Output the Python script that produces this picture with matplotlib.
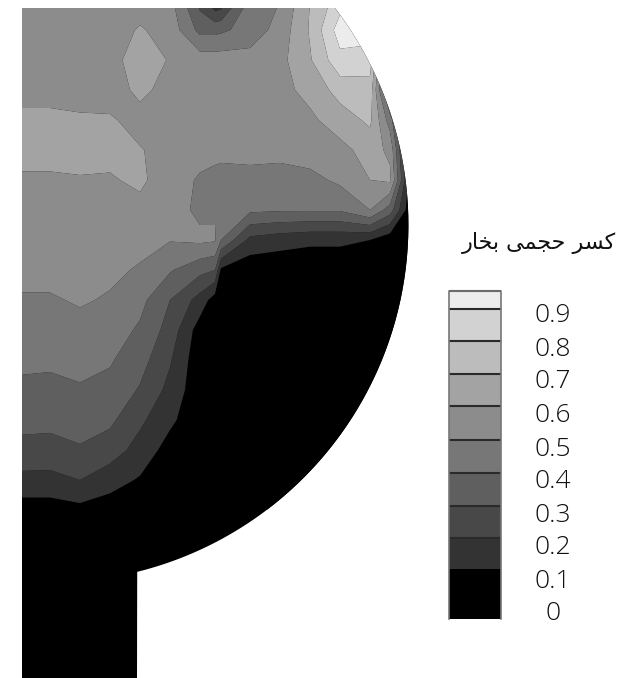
import numpy as np
import matplotlib
matplotlib.use('Agg')
import matplotlib.pyplot as plt
from matplotlib.patches import PathPatch
from matplotlib.path import Path

# vapor fraction, one list per x node (top to bottom)
x_nodes = [20, 50, 80, 110, 140, 170, 200, 215, 221, 250, 280, 310, 340, 370, 390, 410]
y_nodes = [0, 30, 60, 90, 120, 150, 180, 210, 240, 270, 300, 330, 360, 390, 420, 450, 480, 510]
vapor_columns = [
    [.55, .55, .55, .57, .62, .65, .58, .57, .55, .53, .49, .45, .42, .38, .33, .27, .17, .05],
    [.55, .55, .55, .57, .62, .65, .58, .57, .55, .53, .49, .45, .42, .37, .33, .26, .17, .05],
    [.55, .55, .55, .57, .61, .65, .59, .57, .55, .53, .51, .47, .43, .39, .34, .29, .20, .07],
    [.55, .55, .55, .56, .61, .63, .59, .57, .54, .52, .49, .45, .41, .37, .32, .25, .14, .05],
    [.55, .61, .67, .62, .57, .605, .62, .57, .53, .49, .43, .385, .34, .29, .22, .16, .09, .03],
    [.53, .56, .59, .57, .56, .57, .54, .54, .505, .41, .30, .26, .21, .17, .12, .06, .03, .03],
    [.26, .37, .55, .56, .56, .53, .49, .48, .52, .33, .16, .05, .03, .03, .03, .03, .03, .03],
    [.10, .37, .55, .56, .56, .53, .47, .49, .51, .30, .05, .03, .03, .03, .03, .03, .03, .03],
    [.12, .38, .55, .56, .56, .53, .46, .45, .40, .08, .03, .03, .03, .03, .03, .03, .03, .03],
    [.42, .44, .54, .56, .56, .53, .47, .42, .17, .03, .03, .03, .03, .03, .03, .03, .03, .03],
    [.50, .54, .57, .57, .57, .53, .46, .41, .14, .03, .03, .03, .03, .03, .03, .03, .03, .03],
    [.70, .71, .69, .63, .58, .55, .47, .41, .12, .03, .03, .03, .03, .03, .03, .03, .03, .03],
    [.85, .95, .87, .74, .65, .57, .52, .41, .12, .03, .03, .03, .03, .03, .03, .03, .03, .03],
    [.85, .95, .85, .76, .72, .64, .60, .50, .10, .03, .03, .03, .03, .03, .03, .03, .03, .03],
    [.20, .20, .20, .20, .45, .58, .62, .35, .03, .03, .03, .03, .03, .03, .03, .03, .03, .03],
    [.00, .00, .00, .00, .00, .00, .05, .03, .03, .03, .03, .03, .03, .03, .03, .03, .03, .03],
]

levels = [0, .1, .2, .3, .4, .5, .6, .7, .8, .9, 1]
band_colors = ['#000000', '#333333', '#484848', '#5f5f5f', '#777777',
               '#8c8c8c', '#a3a3a3', '#bcbcbc', '#d2d2d2', '#ececec']

# legend
legend_labels = ['0.9', '0.8', '0.7', '0.6', '0.5', '0.4', '0.3', '0.2', '0.1', '0']
legend_edges = [291, 309, 341, 374, 406, 440, 473, 506, 538, 569, 619]
label_y = [316, 349, 382, 416, 449, 482, 515, 548, 582, 613]
legend_title = '\uFEAD\uFE8E\uFEA8\uFE91 \uFBFD\uFEE4\uFEA0\uFEA3 \uFEAE\uFEB4\uFB90'  # کسر حجمی بخار, shaped by hand

fig = plt.figure(figsize=(6.28, 6.78), dpi=100)
ax = fig.add_axes([0, 0, 1, 1])
ax.set_xlim(0, 628)
ax.set_ylim(678, 0)
ax.axis('off')

# domain outline: flat top, round vessel, pipe below
cx, cy, r = 51, 225, 357.4
ang = np.linspace(np.arctan2(8 - cy, np.sqrt(r**2 - (8 - cy)**2)),
                  np.arctan2(571 - cy, 137 - cx), 200)
outline = [(22, 8)] + list(zip(cx + r * np.cos(ang), cy + r * np.sin(ang))) + [(137, 678), (22, 678), (22, 8)]
domain = Path(outline)
ax.add_patch(PathPatch(domain, facecolor='black', edgecolor='none'))

X, Y = np.meshgrid(x_nodes, y_nodes)
Z = np.array(vapor_columns).T
cf = ax.contourf(X, Y, Z, levels=levels, colors=band_colors, antialiased=True)
cf.set_clip_path(PathPatch(domain, transform=ax.transData))
ax.set_xlim(0, 628)
ax.set_ylim(678, 0)

# legend boxes, top to bottom
for i in range(len(band_colors)):
    ax.bar(475, legend_edges[i + 1] - legend_edges[i], width=52, bottom=legend_edges[i],
           color=band_colors[::-1][i], edgecolor='none')
for y in legend_edges[:9]:
    ax.plot([449, 501], [y, y], color='#2a2a2a', lw=1.5, solid_capstyle='butt')
ax.plot([449, 449, 501, 501], [619, 291, 291, 619], color='#777777', lw=1.2)

for lab, y in zip(legend_labels, label_y):
    ax.text(553, y, lab, ha='center', va='center', fontsize=19, family='Open Sans', fontweight='light', color='#111111')
ax.text(539, 243, legend_title, ha='center', va='center', fontsize=16, family='DejaVu Sans', color='#111111')

fig.savefig('out.png', dpi=100)
